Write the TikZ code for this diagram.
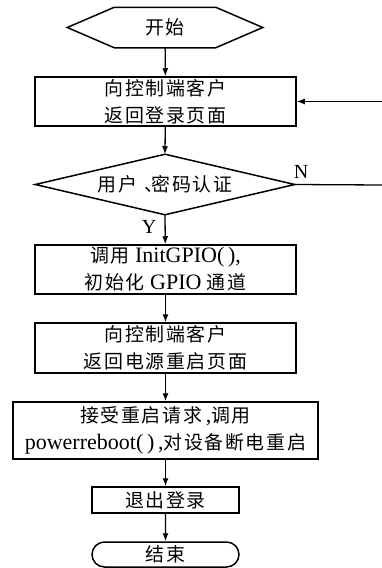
\documentclass[tikz,border=0pt]{standalone}
\usepackage{fontspec}
\setmainfont{Liberation Serif}
\newfontfamily\cjk[Scale=0.86,LetterSpace=9]{Noto Sans CJK SC}
\newcommand\zh[1]{{\cjk #1}}
\usetikzlibrary{arrows.meta,shapes.misc}

\tikzset{
  base/.style={font=\fontsize{22}{27}\selectfont, align=center, inner sep=0pt, line width=1.5pt},
  procbox/.style={base, draw, rectangle},
  ghost/.style={base, draw=none, rectangle},
  flow/.style={line width=1.3pt, -{Latex[length=8pt,width=6pt]}},
  plain/.style={line width=1.3pt},
  tag/.style={font=\fontsize{20}{20}\selectfont, inner sep=0pt},
}

\begin{document}
\begin{tikzpicture}[x=1pt,y=-1pt]
\useasboundingbox (0,0) rectangle (382,568);

% start (hexagon drawn around a bare text node)
\node[ghost, minimum width=194pt, minimum height=39pt] (start) at (165,27.5) {\zh{开始}};
\draw[line width=1.5pt] (start.west) -- ([xshift=47pt]start.north west) -- ([xshift=-47pt]start.north east)
  -- (start.east) -- ([xshift=-47pt]start.south east) -- ([xshift=47pt]start.south west) -- cycle;

\node[procbox, minimum width=261pt, minimum height=49pt] (b1) at (165.5,101.5)
  {\zh{向控制端客户}\\\zh{返回登录页面}};

% credential check (diamond drawn around a bare text node)
\node[ghost, minimum width=258pt, minimum height=59pt] (chk) at (165,184.5)
  {\zh{用户}\hspace{0.35em}\zh{、}\hspace{-0.55em}\zh{密码认证}};
\draw[line width=1.5pt] (chk.west) -- (chk.north) -- (chk.east) -- (chk.south) -- cycle;

\node[procbox, minimum width=261pt, minimum height=49pt] (b2) at (165.5,269.5)
  {\zh{调用} InitGPIO(\,),\\\zh{初始化} GPIO \zh{通道}};

\node[procbox, minimum width=261pt, minimum height=50pt] (b3) at (165.5,348)
  {\zh{向控制端客户}\\\zh{返回电源重启页面}};

\node[procbox, minimum width=305pt, minimum height=57pt] (b4) at (165.5,430.5)
  {\zh{接受重启请求}\,,\zh{调用}\\powerreboot(\,)\,,\zh{对设备断电重启}};

\node[procbox, minimum width=147pt, minimum height=26pt] (b5) at (165.5,500) {\zh{退出登录}};

\node[procbox, rounded rectangle, minimum width=147pt, minimum height=25pt] (stop) at (165.5,554.5) {\zh{结束}};

% loose ends of the retry loop
\coordinate (nout) at (382,185);
\coordinate (back) at (382,101.5);

% connectors
\draw[flow] (start) -- (b1);
\draw[flow] (b1) -- (chk.north);
\draw[flow] (chk.south) -- (b2);
\draw[flow] (b2) -- (b3);
\draw[flow] (b3) -- (b4);
\draw[flow] (b4) -- (b5);
\draw[flow] (b5) -- (stop);
\draw[plain] (chk.east) -- (nout);
\draw[flow] (back) -- (b1.east);

% branch labels
\node[tag] (lblN) at (301,172) {N};
\node[tag] (lblY) at (149,226.5) {Y};
\end{tikzpicture}
\end{document}
